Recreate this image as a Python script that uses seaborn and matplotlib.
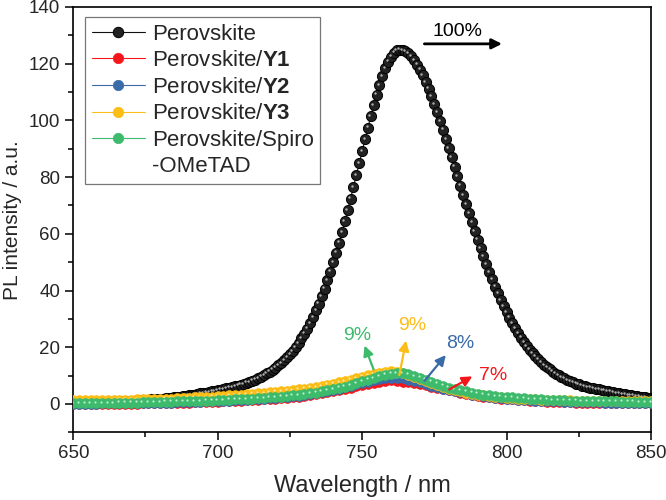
import numpy as np
import pandas as pd
import seaborn as sns
import matplotlib.pyplot as plt
from matplotlib.lines import Line2D
from matplotlib.transforms import offset_copy

# --- data ---
wl_black = np.arange(650, 851, 1)
pl_perovskite = [
    0.5, 0.5, 0.5, 0.6, 0.6, 0.6, 0.6, 0.6, 0.7, 0.7, 0.7, 0.7, 0.8, 0.8,
    0.8, 0.9, 0.9, 1.0, 1.0, 1.1, 1.1, 1.2, 1.2, 1.3,
    1.4, 1.4, 1.5, 1.6, 1.7, 1.8, 1.8, 1.9, 2.0, 2.1,
    2.2, 2.3, 2.4, 2.6, 2.7, 2.9, 3.0, 3.2, 3.3, 3.5,
    3.7, 3.8, 4.0, 4.2, 4.4, 4.6, 4.8, 5.0, 5.3, 5.5,
    5.8, 6.0, 6.3, 6.5, 6.8, 7.1, 7.5, 7.8, 8.2, 8.6,
    9.1, 9.6, 10.2, 10.8, 11.4, 12.1, 12.8, 13.6, 14.4, 15.4,
    16.4, 17.5, 18.7, 20.1, 21.5, 23.1, 24.8, 26.6, 28.6, 30.7,
    33.0, 35.4, 38.0, 40.7, 43.6, 46.7, 50.0, 53.4, 56.9, 60.6,
    64.4, 68.4, 72.4, 76.5, 80.7, 85.0, 89.2, 93.4, 97.5, 101.6,
    105.5, 109.1, 112.5, 115.6, 118.4, 120.7, 122.5, 123.9, 124.7, 125.0,
    124.9, 124.4, 123.7, 122.6, 121.3, 119.7, 117.9, 115.9, 113.6, 111.2,
    108.5, 105.8, 102.8, 99.8, 96.7, 93.5, 90.3, 87.0, 83.7, 80.3,
    77.0, 73.7, 70.5, 67.3, 64.1, 61.0, 57.9, 54.9, 52.1, 49.3,
    46.5, 43.9, 41.4, 39.0, 36.7, 34.5, 32.4, 30.4, 28.5, 26.7,
    25.0, 23.4, 21.9, 20.5, 19.2, 18.0, 16.8, 15.8, 14.8, 13.8,
    13.0, 12.2, 11.4, 10.7, 10.1, 9.5, 9.0, 8.5, 8.0, 7.6,
    7.2, 6.9, 6.5, 6.2, 5.9, 5.7, 5.5, 5.3, 5.1, 4.9,
    4.7, 4.5, 4.3, 4.1, 3.9, 3.7, 3.5, 3.4, 3.2, 3.0,
    2.9, 2.7, 2.6, 2.4, 2.3, 2.1, 2.0,
]

wl = np.arange(650, 851, 2)
pl_y1 = [
    0.0, 0.0, 0.0, 0.0, 0.0, 0.0, 0.1, 0.1, 0.1, 0.1,
    0.1, 0.1, 0.2, 0.2, 0.2, 0.3, 0.3, 0.4, 0.4, 0.5,
    0.5, 0.6, 0.6, 0.7, 0.8, 0.8, 0.9, 1.0, 1.1, 1.2,
    1.3, 1.4, 1.5, 1.6, 1.7, 1.9, 2.0, 2.2, 2.4, 2.6,
    2.8, 3.1, 3.4, 3.8, 4.1, 4.5, 4.9, 5.3, 5.8, 6.3,
    6.8, 7.2, 7.5, 7.8, 8.1, 8.3, 8.2, 7.9, 7.6, 7.3,
    7.0, 6.6, 6.1, 5.6, 5.2, 4.8, 4.4, 4.0, 3.6, 3.2,
    2.9, 2.6, 2.4, 2.1, 1.9, 1.7, 1.6, 1.4, 1.3, 1.1,
    1.0, 0.9, 0.8, 0.8, 0.7, 0.6, 0.6, 0.5, 0.5, 0.5,
    0.4, 0.4, 0.4, 0.3, 0.3, 0.3, 0.3, 0.2, 0.2, 0.2,
    0.2,
]
pl_y2 = [
    0.1, 0.1, 0.1, 0.1, 0.1, 0.2, 0.2, 0.2, 0.2, 0.2,
    0.3, 0.3, 0.3, 0.4, 0.4, 0.4, 0.5, 0.5, 0.6, 0.6,
    0.7, 0.7, 0.8, 0.9, 0.9, 1.0, 1.1, 1.2, 1.3, 1.4,
    1.5, 1.6, 1.7, 1.9, 2.0, 2.2, 2.3, 2.5, 2.7, 2.9,
    3.2, 3.5, 3.8, 4.2, 4.6, 5.0, 5.4, 5.9, 6.4, 6.9,
    7.4, 7.9, 8.3, 8.7, 9.0, 9.2, 9.2, 9.0, 8.6, 8.1,
    7.6, 7.1, 6.5, 5.9, 5.4, 4.9, 4.5, 4.1, 3.7, 3.3,
    3.0, 2.7, 2.5, 2.2, 2.0, 1.8, 1.7, 1.5, 1.4, 1.3,
    1.2, 1.1, 1.0, 0.9, 0.9, 0.8, 0.8, 0.7, 0.7, 0.6,
    0.6, 0.6, 0.5, 0.5, 0.5, 0.5, 0.4, 0.4, 0.4, 0.4,
    0.4,
]
pl_y3 = [
    1.3, 1.3, 1.3, 1.4, 1.4, 1.4, 1.4, 1.4, 1.5, 1.5,
    1.5, 1.6, 1.6, 1.7, 1.7, 1.8, 1.9, 1.9, 2.0, 2.1,
    2.2, 2.3, 2.4, 2.5, 2.6, 2.7, 2.8, 3.0, 3.1, 3.3,
    3.4, 3.6, 3.7, 3.9, 4.1, 4.3, 4.5, 4.7, 4.9, 5.2,
    5.4, 5.7, 6.0, 6.4, 6.8, 7.2, 7.6, 8.1, 8.6, 9.1,
    9.6, 10.1, 10.6, 11.0, 11.4, 11.5, 11.3, 10.8, 10.2, 9.5,
    8.8, 8.1, 7.4, 6.7, 6.0, 5.4, 4.9, 4.4, 4.0, 3.6,
    3.3, 3.0, 2.7, 2.5, 2.3, 2.2, 2.0, 1.9, 1.8, 1.7,
    1.6, 1.5, 1.5, 1.4, 1.4, 1.3, 1.3, 1.2, 1.2, 1.2,
    1.1, 1.1, 1.1, 1.0, 1.0, 1.0, 1.0, 0.9, 0.9, 0.9,
    0.9,
]
pl_spiro = [
    0.3, 0.3, 0.3, 0.4, 0.4, 0.4, 0.4, 0.4, 0.5, 0.5,
    0.5, 0.5, 0.6, 0.6, 0.7, 0.7, 0.8, 0.8, 0.9, 0.9,
    1.0, 1.0, 1.1, 1.2, 1.2, 1.3, 1.4, 1.5, 1.6, 1.7,
    1.8, 1.9, 2.0, 2.1, 2.3, 2.4, 2.6, 2.8, 3.0, 3.2,
    3.4, 3.7, 4.0, 4.4, 4.8, 5.2, 5.7, 6.1, 6.7, 7.3,
    8.0, 8.6, 9.2, 9.8, 10.3, 10.7, 10.9, 10.8, 10.4, 9.9,
    9.3, 8.6, 7.9, 7.2, 6.5, 5.8, 5.3, 4.8, 4.4, 4.0,
    3.6, 3.3, 3.0, 2.8, 2.6, 2.4, 2.3, 2.1, 2.0, 1.8,
    1.7, 1.6, 1.5, 1.4, 1.4, 1.3, 1.2, 1.2, 1.1, 1.1,
    1.0, 1.0, 0.9, 0.9, 0.9, 0.8, 0.8, 0.8, 0.7, 0.7,
    0.7,
]

labels = ['Perovskite', r'Perovskite/$\mathbf{Y1}$', r'Perovskite/$\mathbf{Y2}$',
          r'Perovskite/$\mathbf{Y3}$', 'Perovskite/Spiro']
colors = ['#111111', '#f5161b', '#3a6aa8', '#fbbd16', '#3dba6c']
pct_text = ['100%', '7%', '8%', '9%', '9%']

# --- style ---
sns.set_style('ticks')
plt.rcParams['font.family'] = ['Liberation Sans', 'DejaVu Sans']
plt.rcParams['mathtext.fontset'] = 'custom'
plt.rcParams['mathtext.rm'] = 'Liberation Sans'
plt.rcParams['mathtext.bf'] = 'Liberation Sans:bold'

fig = plt.figure(figsize=(6.66, 5.0), dpi=100)
ax = fig.add_axes([0.110, 0.1354, 0.8674, 0.8506])

hl = offset_copy(ax.transData, fig=fig, x=-1.3, y=1.3, units='dots')

# black curve (spheres)
sns.lineplot(x=wl_black, y=pl_perovskite, ax=ax, color=colors[0], lw=0.8,
             marker='o', markersize=7.3, markerfacecolor='#222222',
             markeredgecolor='#000000', markeredgewidth=0.7,
             estimator=None, sort=False, label=labels[0], zorder=2)
ax.scatter(wl_black, pl_perovskite, s=3, color='#b0b0b0', lw=0, transform=hl, zorder=2.1)

series = [pl_y1, pl_y2, pl_y3, pl_spiro]
light = ['#ff9a9a', '#a9c2e6', '#ffe9a0', '#bff0cf']
for i, ys in enumerate(series):
    c = colors[i + 1]
    sns.lineplot(x=wl, y=ys, ax=ax, color=c, lw=0.8, marker='o', markersize=7.0,
                 markerfacecolor=c, markeredgecolor=c, markeredgewidth=0.5,
                 estimator=None, sort=False, label=labels[i + 1], zorder=3 + i)
    ax.scatter(wl, ys, s=2.5, color=light[i], lw=0, transform=hl, zorder=3.1 + i)

ax.set_xlim(650, 850)
ax.set_ylim(-10, 140)
ax.set_xticks(np.arange(650, 851, 50))
ax.set_xticks(np.arange(675, 850, 50), minor=True)
ax.set_yticks(np.arange(0, 141, 20))
ax.set_yticks(np.arange(-10, 140, 20), minor=True)
ax.tick_params(which='major', direction='out', length=6, width=1.1, labelsize=13.5,
               top=False, right=False, color='black')
ax.tick_params(which='minor', direction='out', length=3.5, width=1.1,
               top=False, right=False, color='black')
for s in ax.spines.values():
    s.set_color('black')
    s.set_linewidth(1.2)

ax.set_xlabel('Wavelength / nm', fontsize=17, labelpad=9)
ax.set_ylabel('PL intensity / a.u.', fontsize=15, labelpad=5)

# --- arrows & percentages ---
kw = dict(arrowstyle='-|>', mutation_scale=15)
ax.annotate('', xy=(799.4, 127), xytext=(770.6, 127),
            arrowprops=dict(color='black', lw=2.0, **kw), zorder=10)
ax.text(783, 131.5, pct_text[0], ha='center', va='center', fontsize=14, color='black')

arrows = [  # (start, end, text position) for Y1, Y2, Y3, Spiro
    ((779.3, 4.6), (789.0, 10.2), (795.2, 10.2)),
    ((771.0, 7.4), (779.6, 18.0), (784.1, 21.2)),
    ((762.7, 9.2), (765.4, 23.3), (767.5, 27.5)),
    ((754.3, 11.3), (750.5, 21.5), (748.4, 24.3)),
]
for i, (p0, p1, pt) in enumerate(arrows):
    c = colors[i + 1]
    ax.annotate('', xy=p1, xytext=p0, arrowprops=dict(color=c, lw=1.6, **kw), zorder=10)
    ax.text(pt[0], pt[1], pct_text[i + 1], ha='center', va='center', fontsize=14,
            color=c, zorder=10)

# --- legend ---
handles, labs = ax.get_legend_handles_labels()
handles.append(Line2D([], [], color='none', marker=None))
labs.append('-OMeTAD')
leg = ax.legend(handles, labs, loc='upper left', bbox_to_anchor=(0.0203, 0.9765),
                borderaxespad=0, fontsize=16, frameon=True, fancybox=False,
                handlelength=2.4, handletextpad=0.3, labelspacing=0.25,
                borderpad=0.3, markerscale=1.0)
leg.get_frame().set_edgecolor('#555555')
leg.get_frame().set_linewidth(0.9)
for h in leg.legend_handles:
    h.set_markersize(7.5)

fig.savefig('out.png', dpi=100)
